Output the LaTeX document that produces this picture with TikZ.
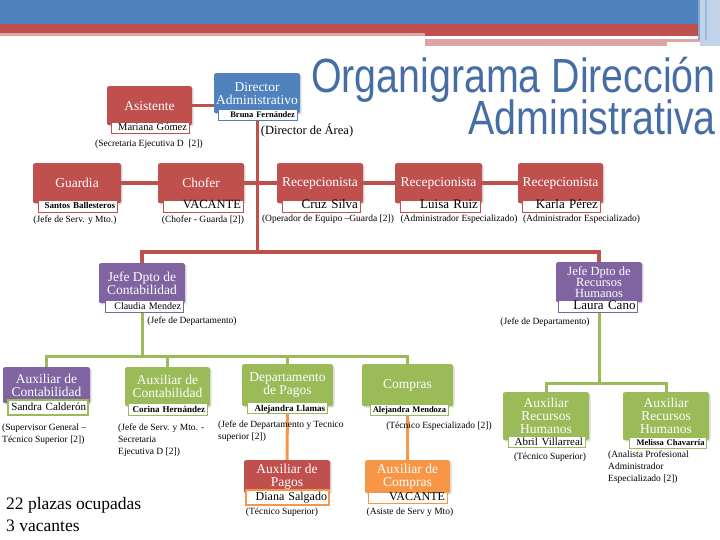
\documentclass[tikz,border=0pt]{standalone}
\usepackage{fontspec}
\setmainfont{Liberation Serif}
\newfontfamily\titlefont[FakeStretch=0.82]{Liberation Sans}
\usetikzlibrary{backgrounds,shadows}
\definecolor{azul}{RGB}{79,129,189}
\definecolor{rojo}{RGB}{192,80,77}
\definecolor{morado}{RGB}{128,100,162}
\definecolor{verde}{RGB}{155,187,89}
\definecolor{naranja}{RGB}{247,150,70}
\definecolor{titulo}{RGB}{70,110,165}
\definecolor{rosa}{RGB}{222,165,165}
\begin{document}
\begin{tikzpicture}[x=1pt, y=-1pt]
        \tikzstyle{caja} = [rounded corners=2pt, anchor=north, text=white, align=center, inner sep=1pt, font=\fontsize{13.5}{13}\selectfont, drop shadow={opacity=0.25, shadow xshift=1.5pt, shadow yshift=-1.5pt}]
        \tikzstyle{nombre} = [fill=white, draw, line width=0.6pt, inner xsep=2pt, inner ysep=0pt, align=right, text height=8.5pt, text depth=2.5pt]
        \tikzstyle{cargo} = [font=\fontsize{9.5}{12}\selectfont, inner sep=0pt, align=left]
        \tikzstyle{linea} = [line width=3.5pt]
        \useasboundingbox (0,0) rectangle (720,540);
        \fill[azul] (0,0) rectangle (720,24);
        \fill[rojo] (0,24) rectangle (720,33);
        \fill[rosa] (0,33) rectangle (425,36);
        \fill[rojo] (425,33) rectangle (720,36);
        \fill[rosa] (425,39) rectangle (667,46);
        \fill[rosa] (667,39) rectangle (700,42);
        \fill[azul!35] (700,0) rectangle (720,46);
        \fill[azul!70] (698,0) rectangle (700,40);
        \fill[azul!55] (705,0) rectangle (707,40);
        \node[font=\titlefont\fontsize{48}{40}\selectfont, text=titulo, anchor=base east, inner sep=0pt, text depth=0pt] (tit1) at (716,93) {Organigrama Dirección};
        \node[font=\titlefont\fontsize{48}{40}\selectfont, text=titulo, anchor=base east, inner sep=0pt, text height=30pt] (tit2) at (716,135) {Administrativa};

        \node[caja, fill=azul, minimum width=86, minimum height=40] (dir) at (257,73) {Director\\Administrativo};
        \node[nombre, draw=azul, text width=75pt, minimum height=10, font=\fontsize{8.5}{9}\selectfont\bfseries] (dir-n) at (257.5,115) {Bruna Fernández};
        \node[cargo, font=\fontsize{12.5}{13}\selectfont] (dir-c) at (307,130) {(Director de Área)};
        \node[caja, fill=rojo, minimum width=85, minimum height=39] (asist) at (149.5,86) {Asistente};
        \node[nombre, draw=rojo, text width=74pt, minimum height=11, font=\fontsize{10.5}{11}\selectfont] (asist-n) at (150,127.5) {Mariana Gómez};
        \node[cargo] (asist-c) at (149,144) {(Secretaria Ejecutiva D\ \ [2])};

        \node[caja, fill=rojo, minimum width=88, minimum height=40] (guardia) at (77,163) {Guardia};
        \node[nombre, draw=rojo, text width=75pt, minimum height=12, font=\fontsize{9}{9}\selectfont\bfseries] (guardia-n) at (77.5,206) {Santos Ballesteros};
        \node[cargo] (guardia-c) at (75,220) {(Jefe de Serv. y Mto.)};
        \node[caja, fill=rojo, minimum width=86, minimum height=40] (chofer) at (201,163) {Chofer};
        \node[nombre, draw=rojo, text width=76pt, minimum height=12, font=\fontsize{12.5}{12}\selectfont] (chofer-n) at (203,206) {VACANTE};
        \node[cargo] (chofer-c) at (203,220) {(Chofer - Guarda [2])};
        \node[caja, fill=rojo, minimum width=86, minimum height=40] (recep1) at (320,163) {Recepcionista};
        \node[nombre, draw=rojo, text width=74pt, minimum height=12, font=\fontsize{13}{12}\selectfont] (recep1-n) at (321,206) {Cruz Silva};
        \node[cargo] (recep1-c) at (328,219) {(Operador de Equipo –Guarda [2])};
        \node[caja, fill=rojo, minimum width=87, minimum height=40] (recep2) at (438.5,163) {Recepcionista};
        \node[nombre, draw=rojo, text width=76pt, minimum height=12, font=\fontsize{13}{12}\selectfont] (recep2-n) at (440,206) {Luisa Ruiz};
        \node[cargo] (recep2-c) at (459,219) {(Administrador Especializado)};
        \node[caja, fill=rojo, minimum width=85, minimum height=40] (recep3) at (560.5,163) {Recepcionista};
        \node[nombre, draw=rojo, text width=74pt, minimum height=12, font=\fontsize{13}{12}\selectfont] (recep3-n) at (561,206) {Karla Pérez};
        \node[cargo] (recep3-c) at (581.5,219) {(Administrador Especializado)};

        \node[caja, fill=morado, minimum width=86, minimum height=40] (jcont) at (142,263) {Jefe Dpto de\\Contabilidad};
        \node[nombre, draw=morado, text width=74pt, minimum height=12, font=\fontsize{10}{10}\selectfont] (jcont-n) at (144,306) {Claudia Mendez};
        \node[cargo] (jcont-c) at (192,321) {(Jefe de Departamento)};
        \node[caja, fill=morado, minimum width=86, minimum height=40, font=\fontsize{12.5}{11}\selectfont] (jrh) at (599,262) {Jefe Dpto de\\Recursos\\Humanos};
        \node[nombre, draw=morado, text width=75pt, minimum height=12, font=\fontsize{13}{12}\selectfont] (jrh-n) at (598,306.5) {Laura Cano};
        \node[cargo] (jrh-c) at (545,322) {(Jefe de Departamento)};

        \node[caja, fill=morado, minimum width=87, minimum height=36] (auxcont1) at (46.5,367) {Auxiliar de\\Contabilidad};
        \node[nombre, draw=verde, line width=2.5pt, text width=76pt, minimum height=15, font=\fontsize{11}{11}\selectfont] (auxcont1-n) at (48,407.5) {Sandra Calderón};
        \node[cargo, anchor=north west] (auxcont1-c) at (2,424) {(Supervisor General –\\Técnico Superior [2])};
        \node[caja, fill=verde, minimum width=85, minimum height=39] (auxcont2) at (167.5,367) {Auxiliar de\\Contabilidad};
        \node[nombre, draw=verde, text width=75pt, minimum height=12, font=\fontsize{9}{9}\selectfont\bfseries] (auxcont2-n) at (167.5,409) {Corina Hernández};
        \node[cargo, anchor=north west] (auxcont2-c) at (118,424) {(Jefe de Serv. y Mto. -\\Secretaria\\Ejecutiva D [2])};
        \node[caja, fill=verde, minimum width=91, minimum height=42] (pagos) at (287.5,364) {Departamento\\de Pagos};
        \node[nombre, draw=verde, text width=76pt, minimum height=11, font=\fontsize{9}{9}\selectfont\bfseries] (pagos-n) at (287,408) {Alejandra Llamas};
        \node[cargo, anchor=north west] (pagos-c) at (218,421) {(Jefe de Departamento y Tecnico\\superior [2])};
        \node[caja, fill=verde, minimum width=91, minimum height=42] (compras) at (407.5,364) {Compras};
        \node[nombre, draw=verde, text width=74pt, minimum height=11, font=\fontsize{8.5}{9}\selectfont\bfseries] (compras-n) at (409,409.5) {Alejandra Mendoza};
        \node[cargo] (compras-c) at (439,426) {(Técnico Especializado [2])};
        \node[caja, fill=verde, minimum width=86, minimum height=48] (auxrh1) at (546,392) {Auxiliar\\Recursos\\Humanos};
        \node[nombre, draw=verde, text width=73pt, minimum height=11, font=\fontsize{11}{11}\selectfont] (auxrh1-n) at (546.5,442) {Abril Villarreal};
        \node[cargo] (auxrh1-c) at (550,457) {(Técnico Superior)};
        \node[caja, fill=verde, minimum width=86, minimum height=48] (auxrh2) at (666,392) {Auxiliar\\Recursos\\Humanos};
        \node[nombre, draw=verde, text width=73pt, minimum height=10, font=\fontsize{8.5}{9}\selectfont\bfseries] (auxrh2-n) at (668,442.5) {Melissa Chavarría};
        \node[cargo, anchor=north west] (auxrh2-c) at (608,451) {(Analista Profesional\\Administrador\\Especializado [2])};

        \node[caja, fill=rojo, minimum width=86, minimum height=33] (auxpagos) at (287,460) {Auxiliar de\\Pagos};
        \node[nombre, draw=naranja, line width=2.5pt, text width=79pt, minimum height=15, font=\fontsize{12}{12}\selectfont] (auxpagos-n) at (287.5,497.5) {Diana Salgado};
        \node[cargo] (auxpagos-c) at (282,512) {(Técnico Superior)};
        \node[caja, fill=naranja, minimum width=85, minimum height=33] (auxcompras) at (407.5,460) {Auxiliar de\\Compras};
        \node[nombre, draw=naranja, text width=75pt, minimum height=11, font=\fontsize{12}{12}\selectfont] (auxcompras-n) at (407.5,497.5) {VACANTE};
        \node[cargo] (auxcompras-c) at (410,512) {(Asiste de Serv y Mto)};

        \node[font=\fontsize{17.5}{22}\selectfont, align=left, anchor=north west, inner sep=0pt] (resumen) at (6,497) {22 plazas ocupadas\\3 vacantes};

        \coordinate (barra) at (257.5,252);
        \coordinate (barraC) at (142,356);
        \coordinate (barraR) at (599,383);
        \begin{scope}[on background layer]
        \draw[linea, rojo] (asist.east) -- (asist.east -| dir.west);
        \draw[linea, rojo] (dir-n.south) -- (barra);
        \draw[linea, rojo] (guardia) -- (chofer) -- (recep1) -- (recep2) -- (recep3);
        \draw[linea, rojo] (jcont.north) |- (barra) -| (jrh.north);
        \draw[line width=3pt, verde] (jcont.south) -- (barraC);
        \draw[line width=3pt, verde] (auxcont1.north) |- (barraC) -| (compras.north);
        \draw[line width=3pt, verde] (auxcont2.north) -- (auxcont2.north |- barraC);
        \draw[line width=3pt, verde] (pagos.north) -- (pagos.north |- barraC);
        \draw[line width=3pt, verde] (jrh.south) -- (barraR);
        \draw[line width=3pt, verde] (auxrh1.north) |- (barraR) -| (auxrh2.north);
        \draw[line width=3pt, naranja] (pagos.south) -- (auxpagos.north);
        \draw[line width=3pt, naranja] (compras.south) -- (auxcompras.north);
        \end{scope}
\end{tikzpicture}
\end{document}
